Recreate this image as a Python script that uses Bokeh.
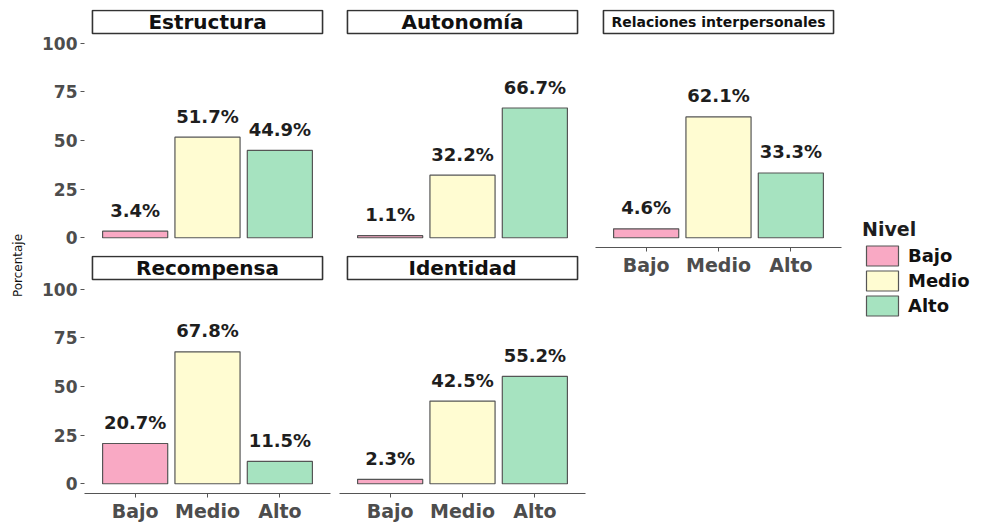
from math import pi
from bokeh.plotting import figure
from bokeh.layouts import row, column
from bokeh.models import Range1d, FactorRange, Legend, LegendItem, FixedTicker, ColumnDataSource
from bokeh.core.properties import value
from bokeh.embed import file_html
from bokeh.resources import INLINE

# ---------------- data ----------------
niveles = ["Bajo", "Medio", "Alto"]
colores = ["#F9A9C4", "#FFFCD2", "#A6E3C0"]
dimensiones = ["Estructura", "Autonomía", "Relaciones interpersonales", "Recompensa", "Identidad"]
estructura = [3.4, 51.7, 44.9]
autonomia = [1.1, 32.2, 66.7]
relaciones = [4.6, 62.1, 33.3]
recompensa = [20.7, 67.8, 11.5]
identidad = [2.3, 42.5, 55.2]
y_ticks = [0, 25, 50, 75, 100]
y_label = "Porcentaje"
legend_title = "Nivel"

FONT = "DejaVu Sans"
FRAME_W = 246
FRAME_H = 238
STRIP_PX = 23
Y_LO, Y_HI = -5, 105
PLOT_PX = FRAME_H - STRIP_PX - 1
STRIP_U = (Y_HI - Y_LO) * STRIP_PX / PLOT_PX
TOP_U = (Y_HI - Y_LO) * 1 / PLOT_PX
X_PAD = 0.2


def panel(title, vals, show_x, show_y, title_size="20px", border_top=9, border_bottom=3):
    p = figure(
        x_range=FactorRange(*niveles, range_padding=X_PAD, range_padding_units="absolute"),
        y_range=Range1d(Y_LO, Y_HI + STRIP_U + TOP_U),
        frame_width=FRAME_W, frame_height=FRAME_H,
        output_backend="svg", toolbar_location=None,
        x_axis_location="below" if show_x else None,
        y_axis_location="left" if show_y else None,
        min_border_left=56 if show_y else 5, min_border_right=5 if not show_y else 4,
        min_border_top=border_top, min_border_bottom=border_bottom,
    )
    p.xgrid.visible = False
    p.ygrid.visible = False
    p.outline_line_color = None
    p.background_fill_color = "white"
    src = ColumnDataSource(dict(x=niveles, top=vals, color=colores,
                                lab=[f"{v:.1f}%" for v in vals]))
    p.vbar(x="x", top="top", bottom=0, width=0.9, fill_color="color",
           line_color="#555555", line_width=1.2, source=src)
    p.text(x="x", y="top", text="lab", source=src, y_offset=-21,
           text_align="center", text_baseline="middle",
           text_font=value(FONT), text_font_style="bold", text_font_size="18px",
           text_color="#1e1e1e")
    # strip
    lo = -X_PAD / 2 + 0.01
    hi = len(niveles) + X_PAD / 2 - 0.01
    p.quad(left=[lo], right=[hi], bottom=[Y_HI], top=[Y_HI + STRIP_U],
           fill_color="white", line_color="#333333", line_width=1.6)
    p.text(x=[len(niveles) / 2], y=[Y_HI + STRIP_U / 2], text=[title], text_align="center",
           text_baseline="middle", text_font=value(FONT), text_font_style="bold",
           text_font_size=title_size, text_color="#111111")
    if show_x:
        ax = p.xaxis[0]
        ax.axis_line_color = "#555555"
        ax.axis_line_width = 1.2
        ax.major_tick_line_color = "#555555"
        ax.major_tick_out = 4
        ax.major_tick_in = 0
        ax.major_label_standoff = 2
        ax.major_label_text_font = FONT
        ax.major_label_text_font_style = "bold"
        ax.major_label_text_font_size = "19px"
        ax.major_label_text_color = "#4d4d4d"
    if show_y:
        ay = p.yaxis[0]
        ay.ticker = FixedTicker(ticks=y_ticks)
        ay.axis_line_color = None
        ay.major_tick_line_color = "#555555"
        ay.major_tick_out = 4
        ay.major_tick_in = 0
        ay.minor_tick_line_color = None
        ay.major_label_standoff = 3
        ay.major_label_text_font = FONT
        ay.major_label_text_font_style = "bold"
        ay.major_label_text_font_size = "17px"
        ay.major_label_text_color = "#4d4d4d"
    return p


p_est = panel(dimensiones[0], estructura, False, True)
p_aut = panel(dimensiones[1], autonomia, False, False)
p_rel = panel(dimensiones[2], relaciones, True, False, title_size="14px")
p_rec = panel(dimensiones[3], recompensa, True, True, border_top=5)
p_ide = panel(dimensiones[4], identidad, True, False, border_top=5)

# y-axis title strip
p_lab = figure(width=28, height=500, x_range=Range1d(0, 1), y_range=Range1d(0, 1),
               output_backend="svg", toolbar_location=None,
               x_axis_location=None, y_axis_location=None,
               min_border=0)
p_lab.xgrid.visible = False
p_lab.ygrid.visible = False
p_lab.outline_line_color = None
p_lab.text(x=[0.64], y=[0.47], text=[y_label], angle=pi / 2, text_align="center",
           text_baseline="middle", text_font=value(FONT), text_font_size="12px",
           text_color="#111111")

# legend figure (keys drawn by the Legend; the backing bars are zero-sized and off-range)
p_leg = figure(width=125, height=330, x_range=Range1d(0, 1), y_range=Range1d(0, 1),
               output_backend="svg", toolbar_location=None,
               x_axis_location=None, y_axis_location=None, min_border=0)
p_leg.xgrid.visible = False
p_leg.ygrid.visible = False
p_leg.outline_line_color = None
leg_src = ColumnDataSource(dict(x=[0.5] * 3, top=[-1.0] * 3, bottom=[-1.0] * 3, color=colores))
items = []
for i, n in enumerate(niveles):
    r = p_leg.vbar(x="x", top="top", bottom="bottom", width=0.0, fill_color="color",
                   line_color="#555555", line_width=1.2, source=leg_src)
    items.append(LegendItem(label=n, renderers=[r], index=i))
leg = Legend(items=items, location=(16, 12), title=legend_title,
             title_text_font=FONT, title_text_font_style="bold", title_text_font_size="19px",
             title_text_color="#1e1e1e", title_standoff=3,
             label_text_font=FONT, label_text_font_style="bold", label_text_font_size="18px",
             label_text_color="#111111", glyph_width=40, glyph_height=25, label_height=25,
             spacing=0, padding=0, margin=0, border_line_color=None,
             background_fill_alpha=0, label_standoff=6)
p_leg.add_layout(leg)

layout = row(p_lab, column(p_est, p_rec, spacing=0), column(p_aut, p_ide, spacing=0),
             column(p_rel), p_leg, spacing=0)

open("out.html", "w").write(file_html(layout, INLINE))
